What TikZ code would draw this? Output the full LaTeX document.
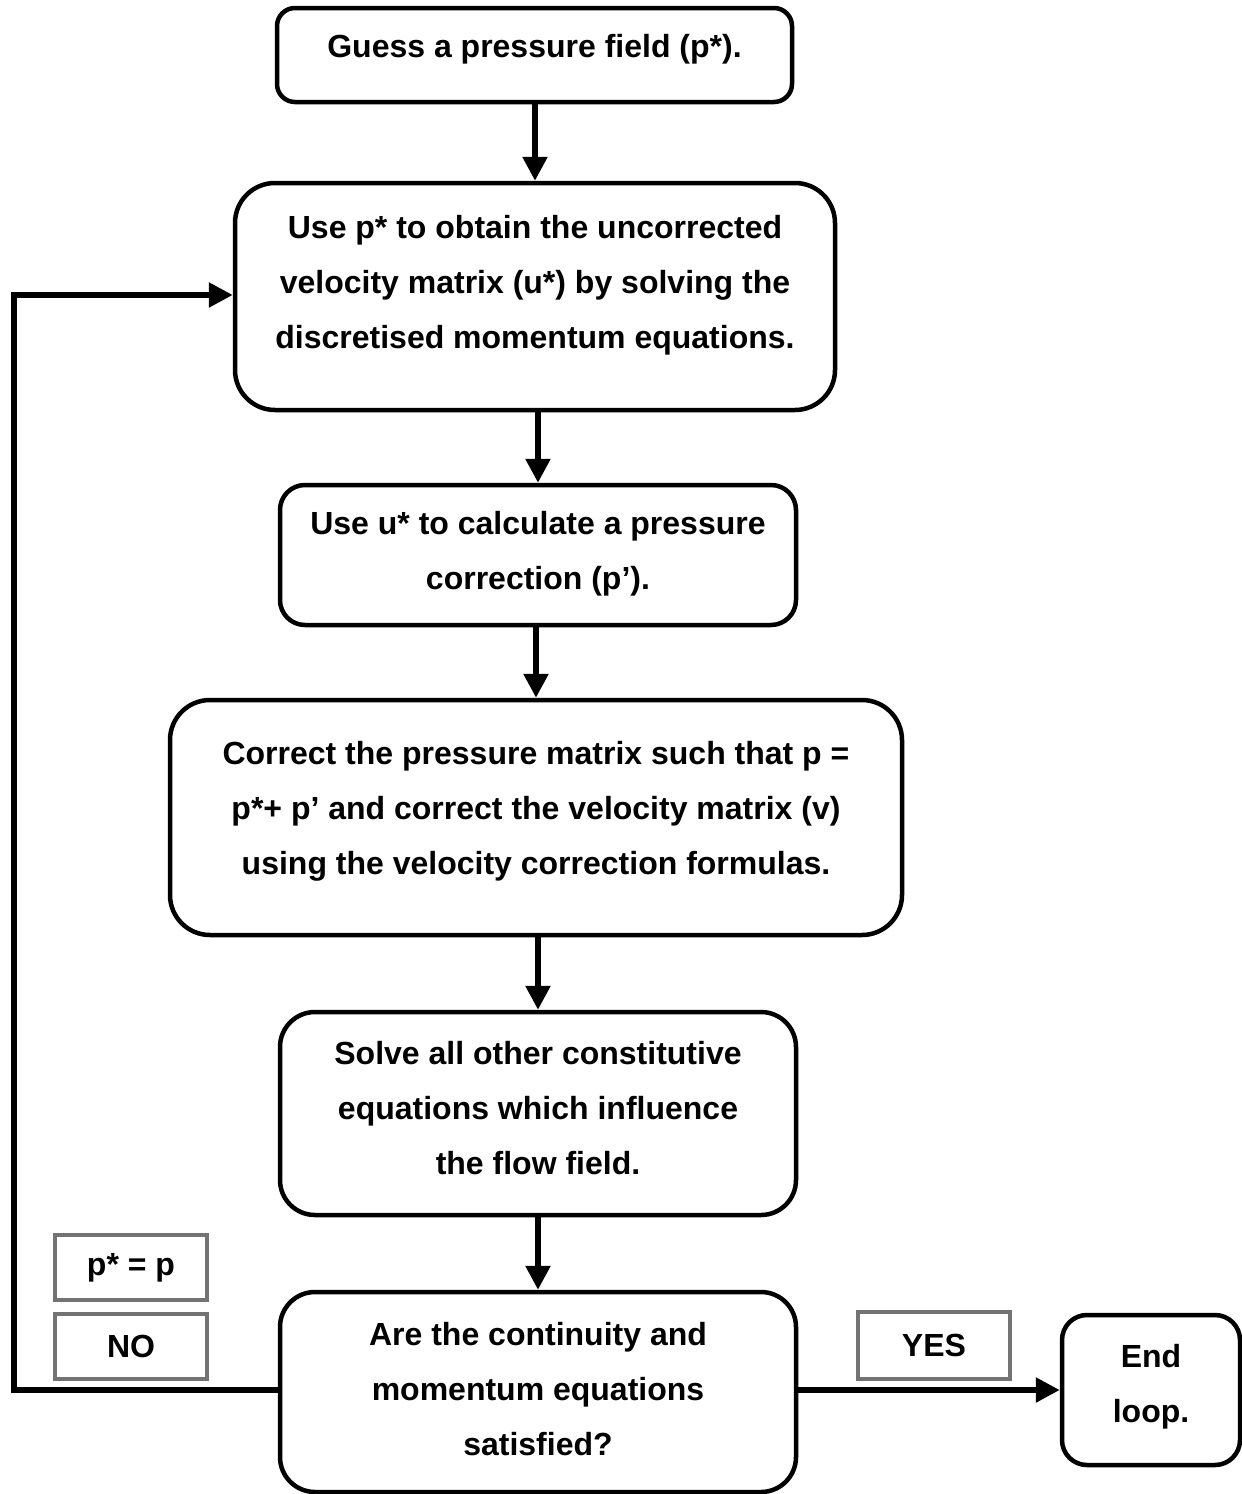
\documentclass[tikz,border=0pt]{standalone}
\usepackage{fontspec}
\setmainfont{Liberation Sans}
\usetikzlibrary{arrows.meta}
% trailing negative line that lifts a centred block a little
\newcommand\liftup[1][36]{\\[-#1pt]}
\begin{document}
\begin{tikzpicture}[x=1pt,y=-1pt,
  every node/.style={font=\bfseries\fontsize{32}{55}\selectfont, align=center, inner sep=0pt},
  stepbox/.style={draw=black, line width=4.5pt, fill=white},
  tagbox/.style={draw=black!55, line width=3.5pt, fill=white, minimum width=152pt, minimum height=65pt},
  flow/.style={line width=5.5pt, -{Triangle[length=24pt,width=24pt]}}
]
\useasboundingbox (0,0) rectangle (1242,1494);

% process steps
\node[stepbox, rounded corners=18pt, minimum width=515pt, minimum height=94pt] (b1) at (534.5,55)
  {Guess a pressure field (p*).\liftup};
\node[stepbox, rounded corners=40pt, minimum width=600pt, minimum height=227pt] (b2) at (535,296.5)
  {Use p* to obtain the uncorrected\\velocity matrix (u*) by solving the\\discretised momentum equations.\liftup[26]};
\node[stepbox, rounded corners=25pt, minimum width=516pt, minimum height=140pt] (b3) at (538,555)
  {Use u* to calculate a pressure\\correction (p’).\liftup[46]};
\node[stepbox, rounded corners=40pt, minimum width=732pt, minimum height=235pt] (b4) at (536,817.5)
  {Correct the pressure matrix such that p =\\p*+ p’ and correct the velocity matrix (v)\\using the velocity correction formulas.\liftup};
\node[stepbox, rounded corners=35pt, minimum width=516pt, minimum height=203pt] (b5) at (538,1113.5)
  {Solve all other constitutive\\equations which influence\\the flow field.\liftup[44]};
\node[stepbox, rounded corners=35pt, minimum width=516pt, minimum height=200pt] (b6) at (538,1392)
  {Are the continuity and\\momentum equations\\satisfied?\liftup[48]};
\node[stepbox, rounded corners=25pt, minimum width=178pt, minimum height=150pt] (bend) at (1151,1390)
  {End\\loop.\liftup[41]};

% branch tags
\node[tagbox] (peq) at (131,1267.5) {p* = p};
\node[tagbox] (no) at (131,1346.5) {NO};
\node[tagbox, minimum height=67pt] (yes) at (934,1345.5) {YES};

% main sequence
\draw[flow] (b1.south -| b2.north) -- (b2.north);
\draw[flow] (b2.south -| b3.north) -- (b3.north);
\draw[flow] (b3.south -| b4.north) -- (b4.north);
\draw[flow] (b4.south -| b5.north) -- (b5.north);
\draw[flow] (b5.south -| b6.north) -- (b6.north);

% iteration loop back to the momentum step
\coordinate (loopbot) at (14,1390);
\coordinate (looptop) at (14,295);
\draw[flow] (b6.west |- loopbot) -- (loopbot) -- (looptop) -- (b2.west |- looptop);

% converged branch
\draw[flow] (b6.east |- bend.west) -- (bend.west);
\end{tikzpicture}
\end{document}
